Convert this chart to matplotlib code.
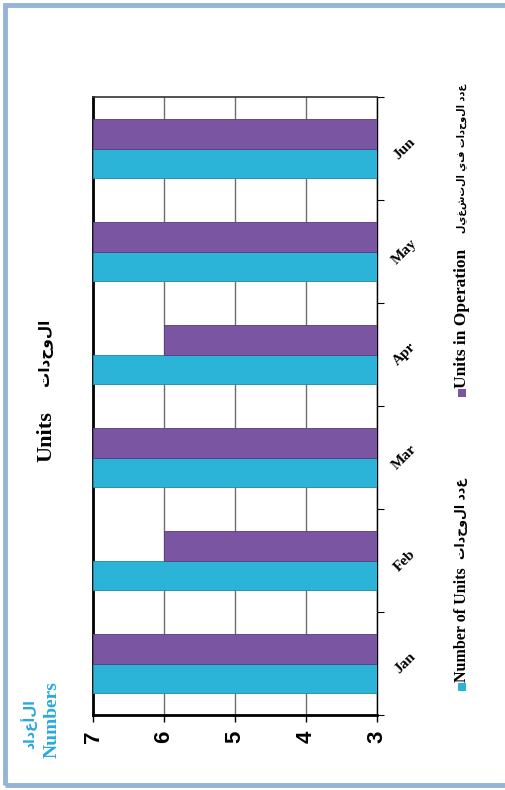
# units chart, drawn rotated like the scanned page
import numpy as np
import matplotlib.pyplot as plt
from matplotlib.patches import Rectangle

# data
months = ['Jan', 'Feb', 'Mar', 'Apr', 'May', 'Jun']
nunits = [7, 7, 7, 7, 7, 7]
nopera = [7, 6, 7, 6, 7, 7]
valticks = [7, 6, 5, 4, 3]

lab_units = 'Number of Units'
lab_units_ar = 'عدد الوحدات'
lab_oper = 'Units in Operation'
lab_oper_ar = 'عدد الوحدات في التشغيل'
title_en = 'Units'
title_ar = 'الوحدات'
ylab_en = 'Numbers'
ylab_ar = 'الأعداد'

# settings
c_cyan = '#2cb3d8'
c_purp = '#7a56a2'
c_lab = '#2aa9df'
serif = ['Liberation Serif', 'DejaVu Sans']
sans = ['Liberation Sans', 'DejaVu Sans']
arfont = ['DejaVu Sans']
W, H = 505., 790.

def ar(s):
    # no shaping in matplotlib, at least put the letters in visual order
    return s[::-1]

def fx(px):
    return px / W

def fy(py):
    return 1. - py / H

# -----
fig = plt.figure(figsize=(5.05, 7.9), dpi=100)

# page frame
fig.patches.append(Rectangle((fx(5), fy(785)), 1.2, fy(5) - fy(785),
                             transform=fig.transFigure, fill=False,
                             ec='#95b3d7', lw=3.5, zorder=0))

ax = fig.add_axes([fx(93), fy(715), fx(377) - fx(93), fy(97) - fy(715)])
pos = np.arange(len(months))
bh = 0.29
base = 3.
ax.barh(pos - bh/2., np.array(nunits) - base, left=base, height=bh,
        color=c_cyan, edgecolor='#1c8aa8', linewidth=0.6, zorder=3)
ax.barh(pos + bh/2., np.array(nopera) - base, left=base, height=bh,
        color=c_purp, edgecolor='#573c7a', linewidth=0.6, zorder=3)

ax.set_xlim(7, 3)
ax.set_ylim(-0.5, len(months) - 0.5)
ax.set_xticks(valticks)
ax.set_xticklabels([str(v) for v in valticks], rotation=90,
                   fontfamily=sans, fontweight='bold', fontsize=16)
ax.tick_params(axis='x', length=5, width=1, pad=6)
ax.grid(axis='x', color='#6e6e6e', lw=1, zorder=1)

# category axis on the right
ax.yaxis.tick_right()
ax.set_yticks(np.arange(len(months) + 1) - 0.5)
ax.set_yticklabels([])
ax.set_yticks(pos, minor=True)
ax.set_yticklabels(months, minor=True, rotation=45, fontfamily=serif,
                   fontweight='bold', fontsize=11, ha='center', va='center')
ax.tick_params(axis='y', which='major', length=5, width=0.8)
ax.tick_params(axis='y', which='minor', length=0, pad=20)

for side in ['left', 'bottom']:
    ax.spines[side].set_linewidth(2)
ax.spines['right'].set_linewidth(1)
ax.spines['top'].set_color('#333333')
ax.spines['top'].set_linewidth(1.2)

# title and value-axis label
fig.text(fx(46), fy(437), title_en, rotation=90, ha='center', va='center',
         fontfamily=serif, fontweight='bold', fontsize=16)
fig.text(fx(45), fy(352), ar(title_ar), rotation=90, ha='center',
         va='center', fontfamily=arfont, fontweight='bold', fontsize=11)
fig.text(fx(29), fy(724), ar(ylab_ar), rotation=90, ha='center',
         va='center', fontfamily=arfont, fontweight='bold', fontsize=10,
         color=c_lab)
fig.text(fx(52), fy(720), ylab_en, rotation=90, ha='center', va='center',
         fontfamily=serif, fontweight='bold', fontsize=14, color=c_lab)

# legend, drawn by hand since it is rotated
legitems = [(c_cyan, 687, lab_units, 11.5, 478, lab_units_ar, 9.0),
            (c_purp, 393, lab_oper, 12.5, 84, lab_oper_ar, 7.0)]
for col, ysq, en, fsen, yarend, arb, fsar in legitems:
    fig.patches.append(Rectangle((fx(458), fy(ysq + 4)), fx(8), fy(0) - fy(8),
                                 transform=fig.transFigure, fc=col, ec='none'))
    fig.text(fx(462), fy(ysq - 5), en, rotation=90, ha='center', va='bottom',
             fontfamily=serif, fontweight='bold', fontsize=fsen)
    fig.text(fx(462), fy(yarend), ar(arb), rotation=90, ha='center',
             va='top', fontfamily=arfont, fontweight='bold', fontsize=fsar)

fig.savefig('out.png', dpi=100)
